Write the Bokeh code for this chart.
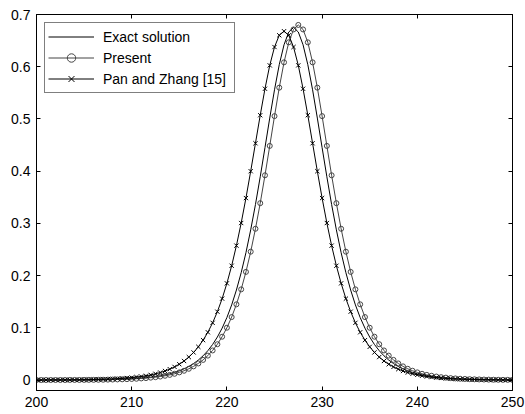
from bokeh.plotting import figure
from bokeh.models import Range1d, LinearAxis, FixedTicker, Legend, LegendItem
from bokeh.embed import file_html
from bokeh.resources import INLINE

# sample positions (every 0.5 from 200 to 250)
x = [200 + 0.5 * i for i in range(101)]

exact = [0.0001, 0.0001, 0.0001, 0.0001, 0.0001, 0.0001, 0.0002, 0.0002, 0.0002, 0.0003,
         0.0003, 0.0004, 0.0005, 0.0007, 0.0008, 0.0009, 0.0011, 0.0014, 0.0017, 0.0021,
         0.0025, 0.0030, 0.0037, 0.0045, 0.0055, 0.0067, 0.0081, 0.0099, 0.0119, 0.0146,
         0.0177, 0.0215, 0.0261, 0.0316, 0.0383, 0.0464, 0.0563, 0.0681, 0.0824, 0.0994,
         0.1197, 0.1439, 0.1724, 0.2056, 0.2439, 0.2876, 0.3362, 0.3892, 0.4451, 0.5017,
         0.5558, 0.6039, 0.6420, 0.6665,
         0.6750,
         0.6665, 0.6420, 0.6039, 0.5558, 0.5017, 0.4451, 0.3892, 0.3362, 0.2876, 0.2439,
         0.2056, 0.1724, 0.1439, 0.1197, 0.0994, 0.0824, 0.0681, 0.0563, 0.0464, 0.0383,
         0.0316, 0.0261, 0.0215, 0.0177, 0.0146, 0.0119, 0.0099, 0.0081, 0.0067, 0.0055,
         0.0045, 0.0037, 0.0030, 0.0025, 0.0021, 0.0017, 0.0014, 0.0011, 0.0009, 0.0008,
         0.0007, 0.0005, 0.0004, 0.0003, 0.0003, 0.0002]

present = [0.0001, 0.0001, 0.0001, 0.0001, 0.0001, 0.0001, 0.0001, 0.0002, 0.0002, 0.0002,
           0.0003, 0.0004, 0.0004, 0.0005, 0.0006, 0.0008, 0.0010, 0.0012, 0.0014, 0.0017,
           0.0021, 0.0025, 0.0031, 0.0037, 0.0046, 0.0055, 0.0067, 0.0082, 0.0099, 0.0120,
           0.0147, 0.0178, 0.0216, 0.0262, 0.0318, 0.0386, 0.0468, 0.0567, 0.0686, 0.0830,
           0.1002, 0.1206, 0.1450, 0.1737, 0.2071, 0.2458, 0.2897, 0.3387, 0.3921, 0.4484,
           0.5054, 0.5599, 0.6084, 0.6467, 0.6714,
           0.6800,
           0.6714, 0.6467, 0.6084, 0.5599, 0.5054, 0.4484, 0.3921, 0.3387, 0.2897, 0.2458,
           0.2071, 0.1737, 0.1450, 0.1206, 0.1002, 0.0830, 0.0686, 0.0567, 0.0468, 0.0386,
           0.0318, 0.0262, 0.0216, 0.0178, 0.0147, 0.0120, 0.0099, 0.0082, 0.0067, 0.0055,
           0.0046, 0.0037, 0.0031, 0.0025, 0.0021, 0.0017, 0.0014, 0.0012, 0.0010, 0.0008,
           0.0006, 0.0005, 0.0004, 0.0004, 0.0003]

pan_zhang = [0.0001, 0.0001, 0.0001, 0.0002, 0.0003, 0.0003, 0.0003, 0.0004, 0.0005, 0.0006,
             0.0007, 0.0009, 0.0011, 0.0013, 0.0015, 0.0018, 0.0022, 0.0027, 0.0032, 0.0039,
             0.0047, 0.0057, 0.0068, 0.0082, 0.0099, 0.0120, 0.0144, 0.0174, 0.0209, 0.0252,
             0.0303, 0.0365, 0.0440, 0.0529, 0.0636, 0.0764, 0.0915, 0.1096, 0.1309, 0.1559,
             0.1852, 0.2189, 0.2574, 0.3007, 0.3485, 0.3999, 0.4534, 0.5071, 0.5578, 0.6026,
             0.6377, 0.6602,
             0.6680,
             0.6602, 0.6377, 0.6026, 0.5578, 0.5071, 0.4534, 0.3999, 0.3485, 0.3007, 0.2574,
             0.2189, 0.1852, 0.1559, 0.1309, 0.1096, 0.0915, 0.0764, 0.0636, 0.0529, 0.0440,
             0.0365, 0.0303, 0.0252, 0.0209, 0.0174, 0.0144, 0.0120, 0.0099, 0.0082, 0.0068,
             0.0057, 0.0047, 0.0039, 0.0032, 0.0027, 0.0022, 0.0018, 0.0015, 0.0013, 0.0011,
             0.0009, 0.0007, 0.0006, 0.0005, 0.0004, 0.0003, 0.0003, 0.0003]

x_ticks = [200, 210, 220, 230, 240, 250]
y_ticks = [0, 0.1, 0.2, 0.3, 0.4, 0.5, 0.6, 0.7]
y_tick_labels = ["0", "0.1", "0.2", "0.3", "0.4", "0.5", "0.6", "0.7"]
series_labels = ["Exact solution", "Present", "Pan and Zhang [15]"]

FONT = "Liberation Sans"

p = figure(width=525, height=414, title=None,
           x_range=Range1d(200, 250), y_range=Range1d(-0.02, 0.7),
           output_backend="svg", toolbar_location=None,
           min_border_left=36, min_border_right=13,
           min_border_top=14, min_border_bottom=24)
p.xgrid.visible = False
p.ygrid.visible = False
p.outline_line_color = "black"
p.outline_line_width = 1
p.background_fill_color = "white"
p.border_fill_color = "white"


def style_axis(ax):
    ax.axis_line_color = "black"
    ax.axis_line_width = 1
    ax.major_tick_in = 4
    ax.major_tick_out = 0
    ax.major_tick_line_color = "black"
    ax.minor_tick_in = 0
    ax.minor_tick_out = 0
    ax.minor_tick_line_color = None
    ax.major_label_text_font = FONT
    ax.major_label_text_color = "black"
    ax.major_label_text_font_size = "14px"


p.xaxis.ticker = FixedTicker(ticks=x_ticks)
p.yaxis.ticker = FixedTicker(ticks=y_ticks)
p.yaxis.major_label_overrides = dict(zip(y_ticks, y_tick_labels))
style_axis(p.xaxis[0])
style_axis(p.yaxis[0])
p.xaxis.major_label_standoff = 6
p.yaxis.major_label_standoff = 6

# box axes (ticks only, no labels) on top and right, MATLAB style
top = LinearAxis(ticker=FixedTicker(ticks=x_ticks))
style_axis(top)
top.major_label_text_color = None
top.major_label_standoff = 0
top.major_label_overrides = {t: "" for t in x_ticks}
p.add_layout(top, "above")
right = LinearAxis(ticker=FixedTicker(ticks=y_ticks))
style_axis(right)
right.major_label_text_color = None
right.major_label_standoff = 0
right.major_label_overrides = {t: "" for t in y_ticks}
p.add_layout(right, "right")

r_exact = p.line(x, exact, line_color="black", line_width=1)
r_pl = p.line(x, present, line_color="#444444", line_width=1)
r_ps = p.scatter(x, present, marker="circle", size=5, fill_color=None,
                 line_color="#444444", line_width=1)
r_xl = p.line(x, pan_zhang, line_color="black", line_width=1)
r_xs = p.scatter(x, pan_zhang, marker="x", size=6, line_color="black", line_width=1)

legend = Legend(items=[
    LegendItem(label=series_labels[0], renderers=[r_exact]),
    LegendItem(label=series_labels[1], renderers=[r_pl, r_ps]),
    LegendItem(label=series_labels[2], renderers=[r_xl, r_xs]),
], location="top_left", margin=8, padding=3, spacing=0,
    label_height=21, glyph_height=21, glyph_width=46, label_standoff=9,
    label_width=128, border_line_color="black", border_line_width=1,
    background_fill_color="white", background_fill_alpha=1,
    label_text_font=FONT, label_text_font_size="14px", label_text_color="black")
p.add_layout(legend)

open("out.html", "w").write(file_html(p, INLINE))
